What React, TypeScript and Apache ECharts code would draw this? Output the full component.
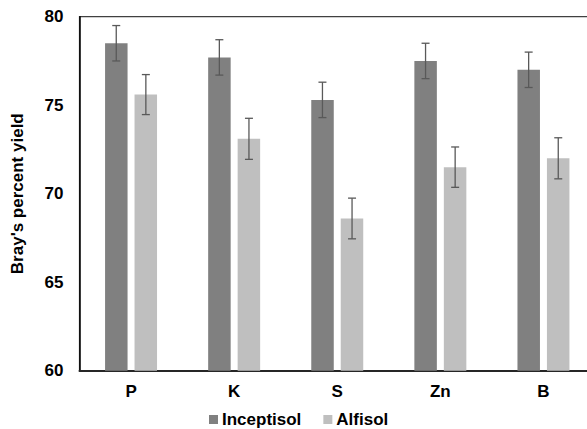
import React, { useEffect, useRef } from "react";
import * as echarts from "echarts";

const categories = ["P", "K", "S", "Zn", "B"];
const inceptisol = [78.5, 77.7, 75.3, 77.5, 77.0];
const inceptisolErr = [1.0, 1.0, 1.0, 1.0, 1.0];
const alfisol = [75.6, 73.1, 68.6, 71.5, 72.0];
const alfisolErr = [1.13, 1.16, 1.15, 1.14, 1.16];
const yTicks = { min: 60, max: 80, interval: 5 };

const BAR_W = 22.5;
const OFFSET = 14.8;

function errorSeries(name: string, values: number[], errs: number[], dx: number) {
  return {
    type: "custom",
    name,
    z: 5,
    silent: true,
    data: values.map((v, i) => [i, v - errs[i], v + errs[i]]),
    renderItem: (params: any, api: any) => {
      const lo = api.coord([api.value(0), api.value(1)]);
      const hi = api.coord([api.value(0), api.value(2)]);
      const x = lo[0] + dx;
      const cap = 4;
      const style = { stroke: "#595959", lineWidth: 1.3 };
      return {
        type: "group",
        children: [
          { type: "line", shape: { x1: x, y1: lo[1], x2: x, y2: hi[1] }, style },
          { type: "line", shape: { x1: x - cap, y1: lo[1], x2: x + cap, y2: lo[1] }, style },
          { type: "line", shape: { x1: x - cap, y1: hi[1], x2: x + cap, y2: hi[1] }, style },
        ],
      };
    },
  };
}

export default function App() {
  const ref = useRef<HTMLDivElement>(null);
  useEffect(() => {
    if (!ref.current) return;
    const chart = echarts.init(ref.current, null, { renderer: "svg" });
    chart.setOption({
      animation: false,
      backgroundColor: "#ffffff",
      textStyle: { fontFamily: "Liberation Sans, Arial, sans-serif" },
      grid: {
        left: 79.5,
        right: -8,
        top: 16.7,
        bottom: 58.3,
        containLabel: false,
        outerBoundsMode: "none",
        show: true,
        borderColor: "#404040",
        borderWidth: 1.2,
        backgroundColor: "transparent",
      },
      legend: {
        bottom: 1,
        left: 209,
        padding: 0,
        itemWidth: 9,
        itemHeight: 9,
        itemGap: 22,
        icon: "rect",
        textStyle: { fontSize: 17, fontWeight: "bold", color: "#000", padding: [0, 0, 0, -1] },
        data: ["Inceptisol", "Alfisol"],
      },
      xAxis: {
        type: "category",
        data: categories,
        axisLine: { show: true, lineStyle: { color: "#262626", width: 2 } },
        axisTick: { show: false },
        axisLabel: { fontSize: 17, fontWeight: "bold", color: "#000", margin: 12 },
        splitLine: { show: false },
      },
      yAxis: {
        type: "value",
        min: yTicks.min,
        max: yTicks.max,
        interval: yTicks.interval,
        name: "Bray's percent yield",
        nameLocation: "middle",
        nameGap: 54,
        nameTextStyle: { fontSize: 17, fontWeight: "bold", color: "#000" },
        axisLine: { show: true, lineStyle: { color: "#000", width: 1.5 } },
        axisTick: { show: false },
        axisLabel: { fontSize: 17, fontWeight: "bold", color: "#000", margin: 16 },
        splitLine: { show: false },
      },
      series: [
        {
          name: "Inceptisol",
          type: "bar",
          data: inceptisol,
          barWidth: BAR_W,
          barGap: "31%",
          itemStyle: { color: "#808080" },
        },
        {
          name: "Alfisol",
          type: "bar",
          data: alfisol,
          barWidth: BAR_W,
          barGap: "31%",
          itemStyle: { color: "#bfbfbf" },
        },
        errorSeries("errI", inceptisol, inceptisolErr, -OFFSET),
        errorSeries("errA", alfisol, alfisolErr, OFFSET),
      ],
    });
    return () => chart.dispose();
  }, []);
  return (
    <div
      ref={ref}
      style={{ position: "fixed", left: 0, top: 0, width: 587, height: 429 }}
    />
  );
}
